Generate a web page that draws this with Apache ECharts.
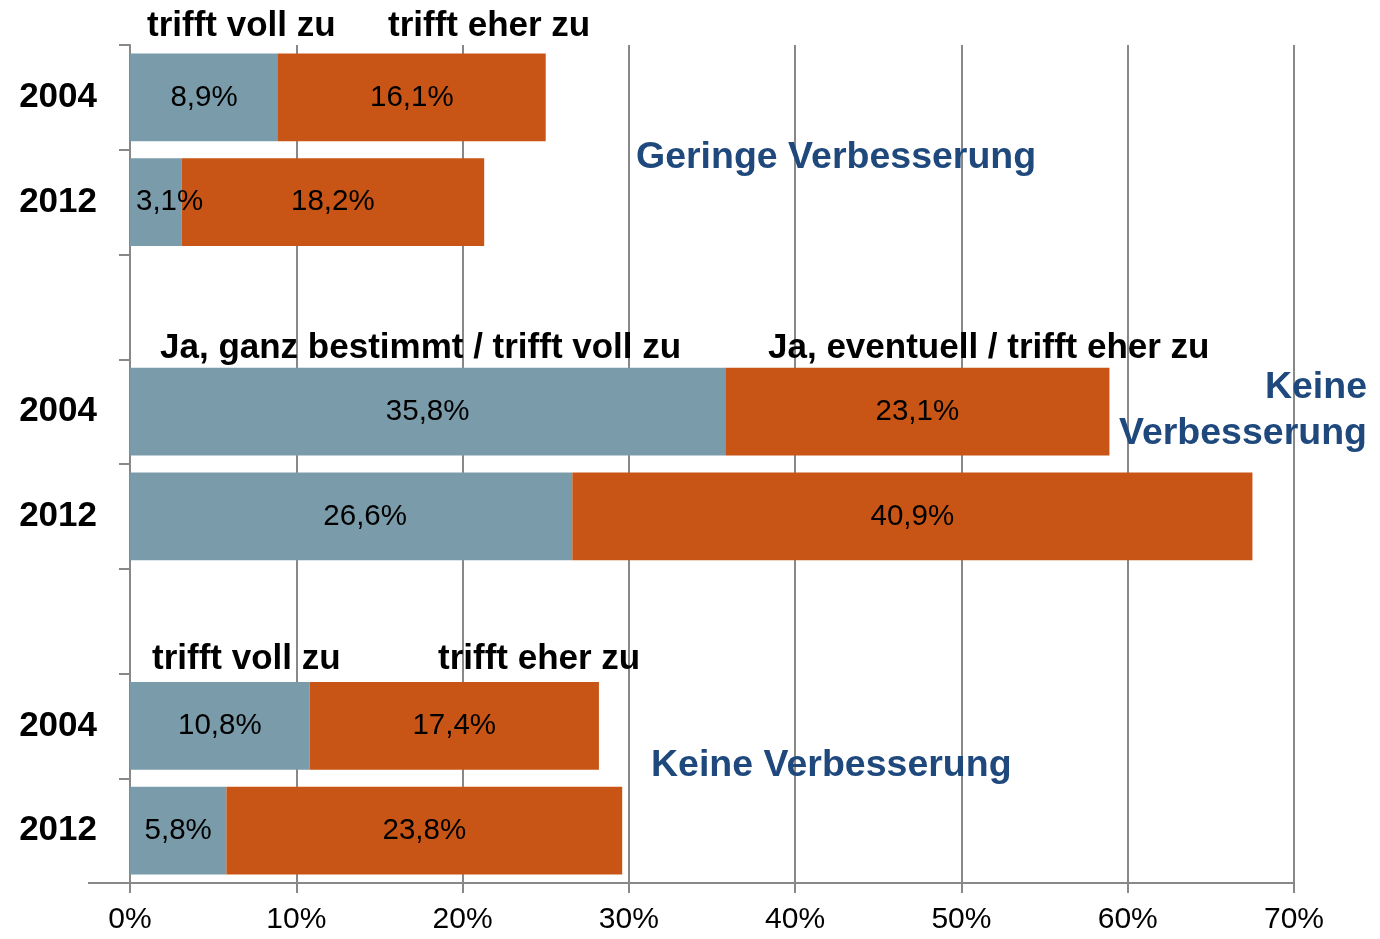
<!DOCTYPE html>
<html>
<head>
<meta charset="utf-8">
<script src="https://cdn.jsdelivr.net/npm/echarts@6/dist/echarts.min.js"></script>
<style>html,body{margin:0;padding:0;background:#fff}#c{width:1380px;height:939px}</style>
</head>
<body>
<div id="c"></div>
<script>
var categories = ['2004', '2012', '', '2004', '2012', '', '2004', '2012'];
var vollZu = [8.9, 3.1, '-', 35.8, 26.6, '-', 10.8, 5.8];
var eherZu = [16.1, 18.2, '-', 23.1, 40.9, '-', 17.4, 23.8];
var xTicks = [0, 10, 20, 30, 40, 50, 60, 70];

var FONT = '"Liberation Sans", Arial, sans-serif';
var BLUE = '#7A9BAA', ORANGE = '#C85515', TXTBLUE = '#1F497D', GRID = '#888888';

function fmt(v) { return String(v).replace('.', ',') + '%'; }

var vollData = vollZu.map(function (v, i) {
  if (v === 3.1) return { value: v, label: { position: 'insideLeft', distance: 6 } };
  if (v === 26.6) return { value: v, label: { offset: [14, 0] } };
  return v;
});

var chart = echarts.init(document.getElementById('c'));
var labelStyle = {
  show: true, position: 'inside', color: '#000', fontFamily: FONT, fontSize: 29.5,
  formatter: function (p) { return fmt(p.value); }
};
function ann(text, x, y, opt) {
  opt = opt || {};
  return {
    type: 'text', x: x, y: y + 2, z: 100,
    style: {
      text: text, x: 0, y: 0, fill: opt.color || '#000', fontFamily: FONT,
      fontWeight: 'bold', fontSize: opt.size || 35,
      textAlign: opt.align || 'left', textVerticalAlign: 'middle'
    }
  };
}
chart.setOption({
  animation: false,
  grid: { left: 130, right: 86, top: 45, bottom: 56 },
  xAxis: {
    type: 'value', min: 0, max: 70, interval: 10,
    axisLine: { show: true, lineStyle: { color: GRID, width: 2 } },
    axisTick: { show: true, length: 10, lineStyle: { color: GRID, width: 2 } },
    splitLine: { show: true, lineStyle: { color: GRID, width: 2 } },
    axisLabel: {
      color: '#000', fontFamily: FONT, fontSize: 30, margin: 22,
      formatter: function (v) { return xTicks.indexOf(v) >= 0 ? v + '%' : ''; }
    }
  },
  yAxis: {
    type: 'category', inverse: true, data: categories,
    axisLine: { show: true, lineStyle: { color: GRID, width: 2 } },
    axisTick: { show: true, length: 11, lineStyle: { color: GRID, width: 2 } },
    axisLabel: { color: '#000', fontFamily: FONT, fontSize: 35, fontWeight: 'bold', margin: 33 }
  },
  series: [
    { name: 'trifft voll zu', type: 'bar', stack: 's', data: vollData,
      barCategoryGap: '16%', itemStyle: { color: BLUE }, label: labelStyle },
    { name: 'trifft eher zu', type: 'bar', stack: 's', data: eherZu,
      barCategoryGap: '16%', itemStyle: { color: ORANGE }, label: labelStyle }
  ],
  graphic: [
    { type: 'line', shape: { x1: 88, y1: 883, x2: 130, y2: 883 }, style: { stroke: GRID, lineWidth: 2 } },
    ann('trifft voll zu', 147, 24),
    ann('trifft eher zu', 388, 24),
    ann('Geringe Verbesserung', 636, 156, { color: TXTBLUE, size: 37.5 }),
    ann('Ja, ganz bestimmt / trifft voll zu', 160, 346),
    ann('Ja, eventuell / trifft eher zu', 768, 346),
    ann('Keine', 1367, 386, { color: TXTBLUE, size: 37.5, align: 'right' }),
    ann('Verbesserung', 1367, 432, { color: TXTBLUE, size: 37.5, align: 'right' }),
    ann('trifft voll zu', 152, 657),
    ann('trifft eher zu', 438, 657),
    ann('Keine Verbesserung', 651, 764, { color: TXTBLUE, size: 37.5 })
  ]
});
</script>
</body>
</html>
